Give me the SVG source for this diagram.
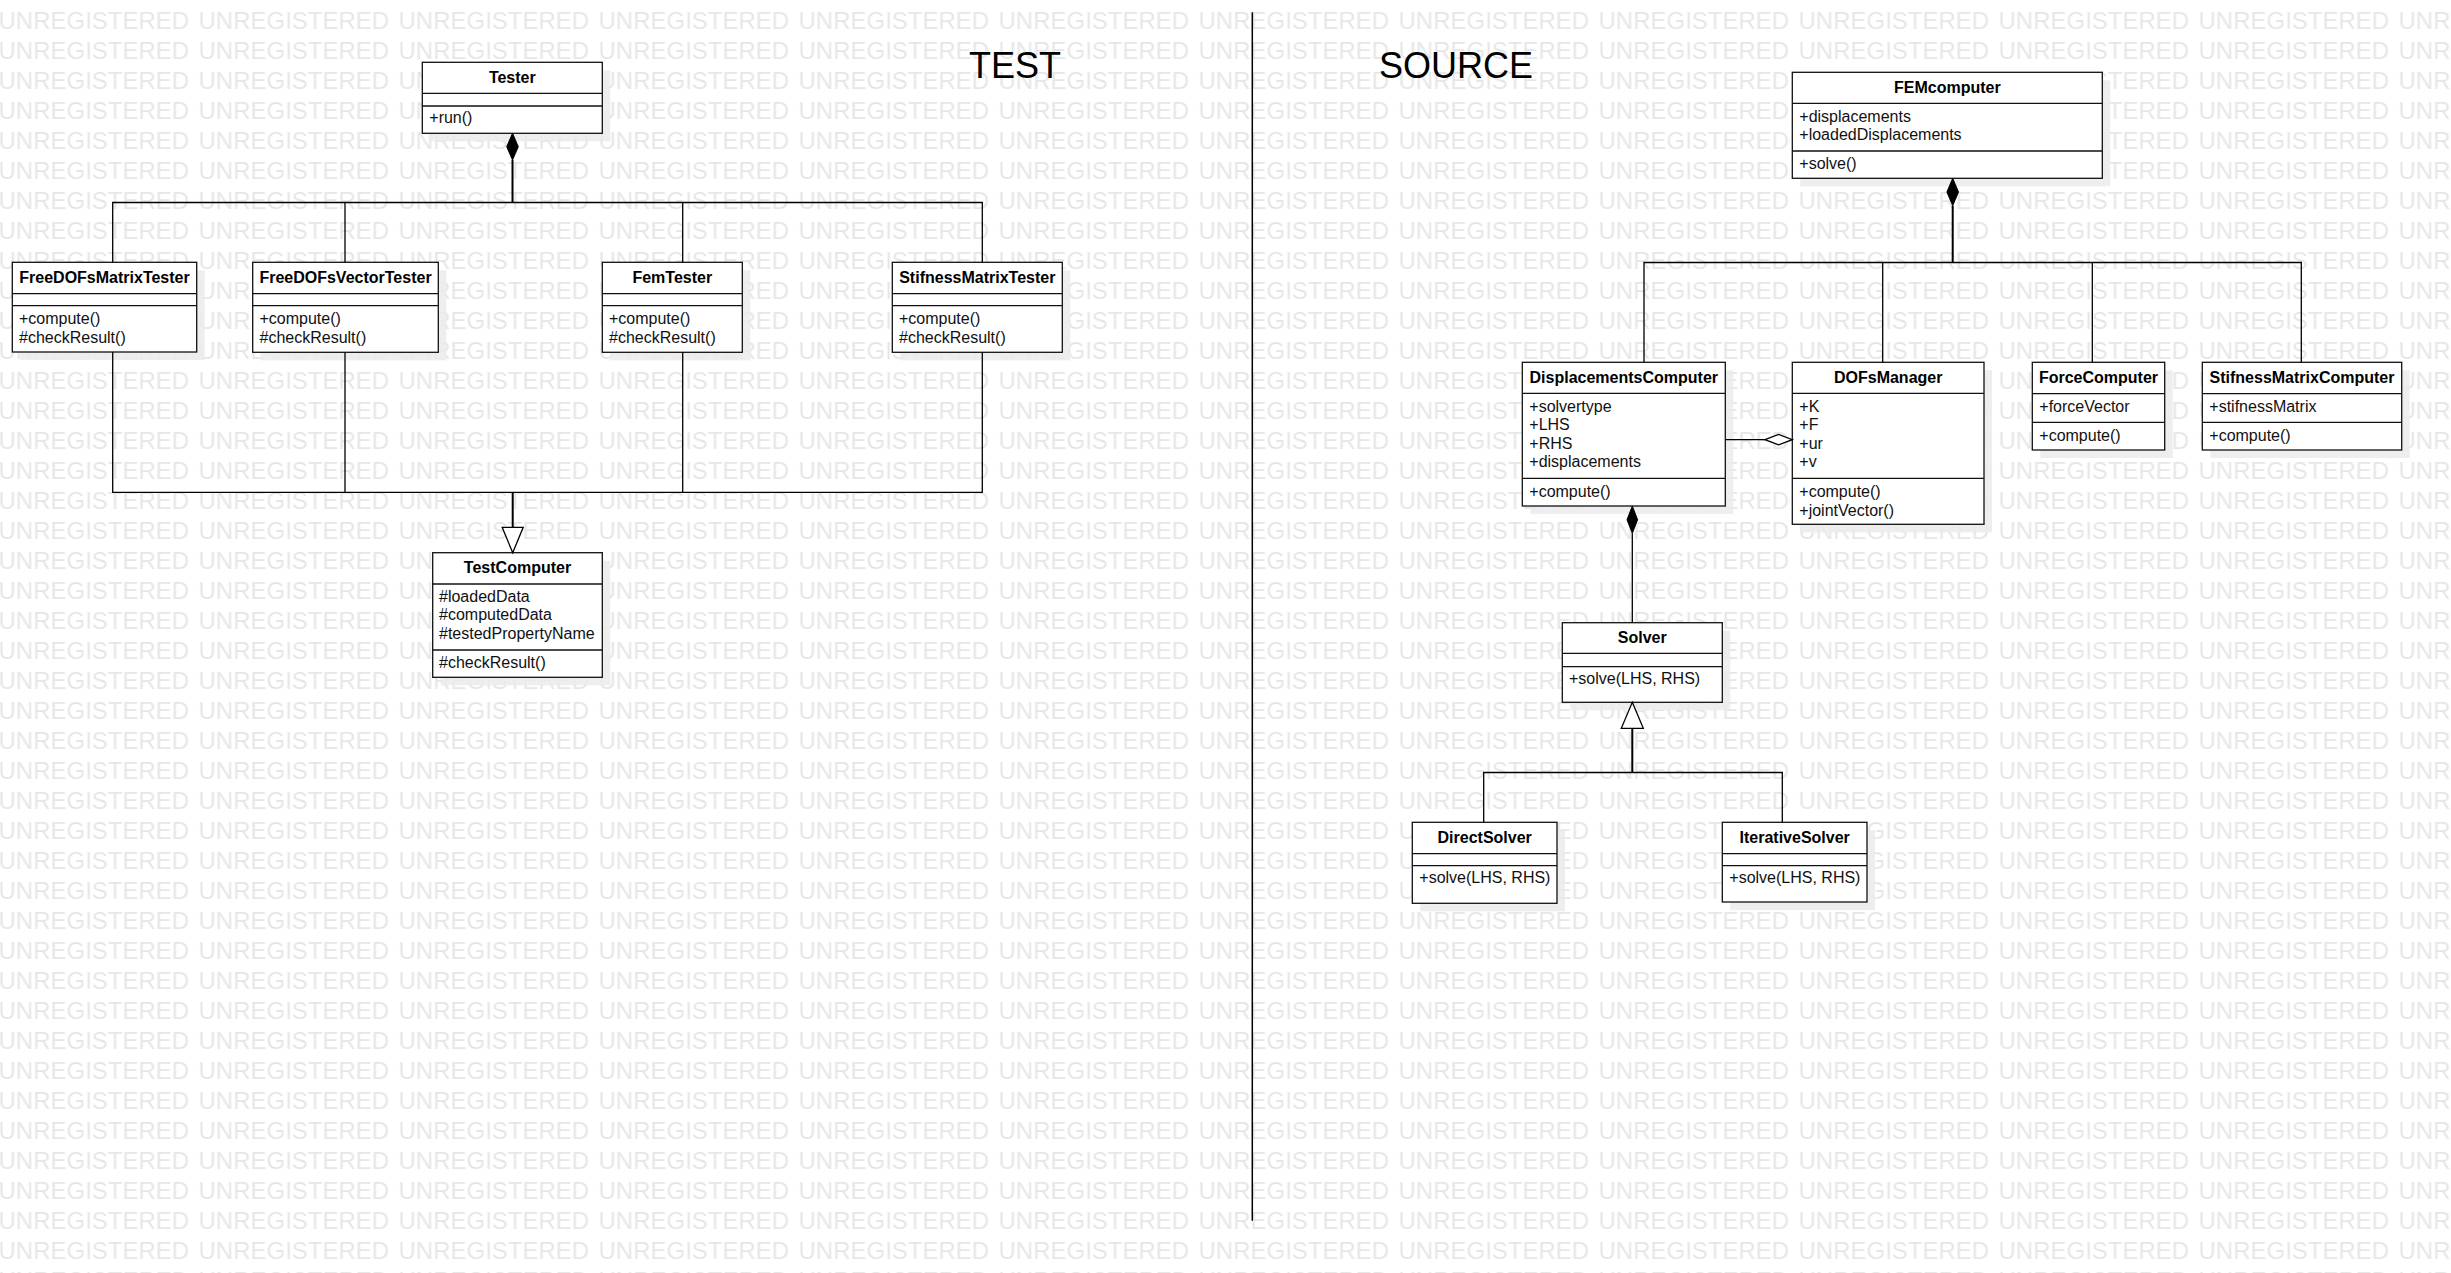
<svg xmlns="http://www.w3.org/2000/svg" width="2451" height="1273" viewBox="0 0 2451 1273">
<style>
text{font-family:"Liberation Sans",Arial,Helvetica,sans-serif}
.wm{font-size:24px;fill:#e6e6e6}
.title{font-size:36px;fill:#000}
.box{fill:#fff;stroke:#111;stroke-width:1.3}
.shadow{fill:#ebebeb;fill-opacity:.85}
.sep{stroke:#111;stroke-width:1.3}
.name{font-size:16px;font-weight:bold;text-anchor:middle;fill:#000}
.mem{font-size:16px;fill:#111}
.conn{fill:none;stroke:#000;stroke-width:1.3}
.trunk{fill:none;stroke:#000;stroke-width:2}
.filled{fill:#000;stroke:#000;stroke-width:1}
.hollow{fill:#fff;stroke:#000;stroke-width:1.3}
.divider{stroke:#000;stroke-width:1.5}
</style>
<defs>
<pattern id="wmpat" x="-1.5" y="0" width="200" height="30" patternUnits="userSpaceOnUse">
<text class="wm" x="0" y="29.3">UNREGISTERED</text>
</pattern>
</defs>
<rect x="0" y="0" width="2451" height="1273" fill="#fff"/>
<rect x="0" y="0" width="2451" height="1273" fill="url(#wmpat)"/>

<g id="divider"><line class="divider" x1="1252.3" y1="12.3" x2="1252.3" y2="1220.7"/></g>
<g id="titles">
<text class="title" x="969" y="78">TEST</text>
<text class="title" x="1379" y="78">SOURCE</text>
</g>

<g id="nodes">
<g id="Tester">
<rect class="shadow" x="430.3" y="70.3" width="180" height="71"/>
<rect class="box" x="422.3" y="62.3" width="180" height="71"/>
<line class="sep" x1="422.3" y1="93.3" x2="602.3" y2="93.3"/>
<line class="sep" x1="422.3" y1="106" x2="602.3" y2="106"/>
<text class="name" x="512.3" y="82.7">Tester</text>
<text class="mem" x="429.3" y="123.3">+run()</text>
</g>
<g id="FreeDOFsMatrixTester">
<rect class="shadow" x="20.3" y="270.3" width="184.4" height="89.7"/>
<rect class="box" x="12.3" y="262.3" width="184.4" height="89.7"/>
<line class="sep" x1="12.3" y1="293.7" x2="196.7" y2="293.7"/>
<line class="sep" x1="12.3" y1="305.7" x2="196.7" y2="305.7"/>
<text class="name" x="104.5" y="282.7">FreeDOFsMatrixTester</text>
<text class="mem" x="19" y="324">+compute()</text>
<text class="mem" x="19" y="342.7">#checkResult()</text>
</g>
<g id="FreeDOFsVectorTester">
<rect class="shadow" x="260.7" y="270.3" width="185.6" height="90"/>
<rect class="box" x="252.7" y="262.3" width="185.6" height="90"/>
<line class="sep" x1="252.7" y1="293.7" x2="438.3" y2="293.7"/>
<line class="sep" x1="252.7" y1="305.7" x2="438.3" y2="305.7"/>
<text class="name" x="345.5" y="282.7">FreeDOFsVectorTester</text>
<text class="mem" x="259.5" y="324">+compute()</text>
<text class="mem" x="259.5" y="342.7">#checkResult()</text>
</g>
<g id="FemTester">
<rect class="shadow" x="610.3" y="270.3" width="140" height="90"/>
<rect class="box" x="602.3" y="262.3" width="140" height="90"/>
<line class="sep" x1="602.3" y1="293.7" x2="742.3" y2="293.7"/>
<line class="sep" x1="602.3" y1="305.7" x2="742.3" y2="305.7"/>
<text class="name" x="672.3" y="282.7">FemTester</text>
<text class="mem" x="609" y="324">+compute()</text>
<text class="mem" x="609" y="342.7">#checkResult()</text>
</g>
<g id="StifnessMatrixTester">
<rect class="shadow" x="900.3" y="270.3" width="170" height="90"/>
<rect class="box" x="892.3" y="262.3" width="170" height="90"/>
<line class="sep" x1="892.3" y1="293.7" x2="1062.3" y2="293.7"/>
<line class="sep" x1="892.3" y1="305.7" x2="1062.3" y2="305.7"/>
<text class="name" x="977.3" y="282.7">StifnessMatrixTester</text>
<text class="mem" x="899" y="324">+compute()</text>
<text class="mem" x="899" y="342.7">#checkResult()</text>
</g>
<g id="TestComputer">
<rect class="shadow" x="440.7" y="560.7" width="169.6" height="124.6"/>
<rect class="box" x="432.7" y="552.7" width="169.6" height="124.6"/>
<line class="sep" x1="432.7" y1="584" x2="602.3" y2="584"/>
<line class="sep" x1="432.7" y1="650" x2="602.3" y2="650"/>
<text class="name" x="517.5" y="572.7">TestComputer</text>
<text class="mem" x="439" y="601.7">#loadedData</text>
<text class="mem" x="439" y="620.3">#computedData</text>
<text class="mem" x="439" y="638.7">#testedPropertyName</text>
<text class="mem" x="439" y="667.7">#checkResult()</text>
</g>

<g id="FEMcomputer">
<rect class="shadow" x="1800.3" y="80.3" width="310" height="106"/>
<rect class="box" x="1792.3" y="72.3" width="310" height="106"/>
<line class="sep" x1="1792.3" y1="103.3" x2="2102.3" y2="103.3"/>
<line class="sep" x1="1792.3" y1="151" x2="2102.3" y2="151"/>
<text class="name" x="1947.3" y="92.7">FEMcomputer</text>
<text class="mem" x="1799.3" y="121.7">+displacements</text>
<text class="mem" x="1799.3" y="140">+loadedDisplacements</text>
<text class="mem" x="1799.3" y="169">+solve()</text>
</g>
<g id="DisplacementsComputer">
<rect class="shadow" x="1530.3" y="370.3" width="203" height="143.7"/>
<rect class="box" x="1522.3" y="362.3" width="203" height="143.7"/>
<line class="sep" x1="1522.3" y1="393.3" x2="1725.3" y2="393.3"/>
<line class="sep" x1="1522.3" y1="478.3" x2="1725.3" y2="478.3"/>
<text class="name" x="1623.8" y="382.7">DisplacementsComputer</text>
<text class="mem" x="1529.3" y="411.7">+solvertype</text>
<text class="mem" x="1529.3" y="430.2">+LHS</text>
<text class="mem" x="1529.3" y="448.7">+RHS</text>
<text class="mem" x="1529.3" y="467.2">+displacements</text>
<text class="mem" x="1529.3" y="496.7">+compute()</text>
</g>
<g id="DOFsManager">
<rect class="shadow" x="1800.3" y="370.3" width="191.7" height="162"/>
<rect class="box" x="1792.3" y="362.3" width="191.7" height="162"/>
<line class="sep" x1="1792.3" y1="393.3" x2="1984" y2="393.3"/>
<line class="sep" x1="1792.3" y1="478.3" x2="1984" y2="478.3"/>
<text class="name" x="1888.2" y="382.7">DOFsManager</text>
<text class="mem" x="1799.3" y="411.7">+K</text>
<text class="mem" x="1799.3" y="430.2">+F</text>
<text class="mem" x="1799.3" y="448.7">+ur</text>
<text class="mem" x="1799.3" y="467.2">+v</text>
<text class="mem" x="1799.3" y="496.7">+compute()</text>
<text class="mem" x="1799.3" y="515.5">+jointVector()</text>
</g>
<g id="ForceComputer">
<rect class="shadow" x="2040.3" y="370.3" width="132.4" height="87.7"/>
<rect class="box" x="2032.3" y="362.3" width="132.4" height="87.7"/>
<line class="sep" x1="2032.3" y1="393.7" x2="2164.7" y2="393.7"/>
<line class="sep" x1="2032.3" y1="422.3" x2="2164.7" y2="422.3"/>
<text class="name" x="2098.5" y="382.7">ForceComputer</text>
<text class="mem" x="2039.3" y="411.7">+forceVector</text>
<text class="mem" x="2039.3" y="440.7">+compute()</text>
</g>
<g id="StifnessMatrixComputer">
<rect class="shadow" x="2210.3" y="370.3" width="199.4" height="87.7"/>
<rect class="box" x="2202.3" y="362.3" width="199.4" height="87.7"/>
<line class="sep" x1="2202.3" y1="393.7" x2="2401.7" y2="393.7"/>
<line class="sep" x1="2202.3" y1="422.3" x2="2401.7" y2="422.3"/>
<text class="name" x="2302" y="382.7">StifnessMatrixComputer</text>
<text class="mem" x="2209.3" y="411.7">+stifnessMatrix</text>
<text class="mem" x="2209.3" y="440.7">+compute()</text>
</g>
<g id="Solver">
<rect class="shadow" x="1570.3" y="630.7" width="160" height="79.6"/>
<rect class="box" x="1562.3" y="622.7" width="160" height="79.6"/>
<line class="sep" x1="1562.3" y1="653.3" x2="1722.3" y2="653.3"/>
<line class="sep" x1="1562.3" y1="666.7" x2="1722.3" y2="666.7"/>
<text class="name" x="1642.3" y="642.7">Solver</text>
<text class="mem" x="1569" y="684.3">+solve(LHS, RHS)</text>
</g>
<g id="DirectSolver">
<rect class="shadow" x="1420.3" y="830.3" width="144.7" height="81"/>
<rect class="box" x="1412.3" y="822.3" width="144.7" height="81"/>
<line class="sep" x1="1412.3" y1="853.7" x2="1557" y2="853.7"/>
<line class="sep" x1="1412.3" y1="865.7" x2="1557" y2="865.7"/>
<text class="name" x="1484.7" y="842.7">DirectSolver</text>
<text class="mem" x="1419.3" y="883.3">+solve(LHS, RHS)</text>
</g>
<g id="IterativeSolver">
<rect class="shadow" x="1730.3" y="830.3" width="144.7" height="79.7"/>
<rect class="box" x="1722.3" y="822.3" width="144.7" height="79.7"/>
<line class="sep" x1="1722.3" y1="853.7" x2="1867" y2="853.7"/>
<line class="sep" x1="1722.3" y1="865.7" x2="1867" y2="865.7"/>
<text class="name" x="1794.7" y="842.7">IterativeSolver</text>
<text class="mem" x="1729.3" y="883.3">+solve(LHS, RHS)</text>
</g>
</g>

<g id="connectors">
<path class="conn" d="M112.7,262.3 V202.5 H982.3 V262.3"/>
<path class="conn" d="M345,202.5 V262.3"/>
<path class="conn" d="M682.7,202.5 V262.3"/>
<path class="trunk" d="M512.5,160 V202.5"/>
<polygon class="filled" points="512.5,133.3 518.3,146.7 512.5,160 506.7,146.7"/>
<path class="conn" d="M112.7,352 V492.3 H982.3 V352.3"/>
<path class="conn" d="M345,352.3 V492.3"/>
<path class="conn" d="M682.7,352.3 V492.3"/>
<path class="trunk" d="M512.7,492.3 V527.3"/>
<polygon class="hollow" points="502.2,527.3 523.2,527.3 512.7,552.7"/>

<path class="conn" d="M1644,362.3 V262.5 H2301.3 V362.3"/>
<path class="conn" d="M1882.7,262.5 V362.3"/>
<path class="conn" d="M2092.3,262.5 V362.3"/>
<path class="trunk" d="M1952.7,205.7 V262.5"/>
<polygon class="filled" points="1952.7,178.3 1958.5,192 1952.7,205.7 1946.9,192"/>
<path class="conn" d="M1725.3,439.7 H1765"/>
<polygon class="hollow" points="1765,439.7 1778.6,434.5 1792.3,439.7 1778.6,444.9"/>
<path class="conn" d="M1632.3,533.3 V622.7"/>
<polygon class="filled" points="1632.3,506 1637.6,519.7 1632.3,533.3 1627,519.7"/>
<path class="trunk" d="M1632.3,728.3 V772.5"/>
<polygon class="hollow" points="1632.3,702.3 1643.3,728.3 1621.3,728.3"/>
<path class="conn" d="M1483.7,822.3 V772.5 H1782.3 V822.3"/>
</g>
</svg>
